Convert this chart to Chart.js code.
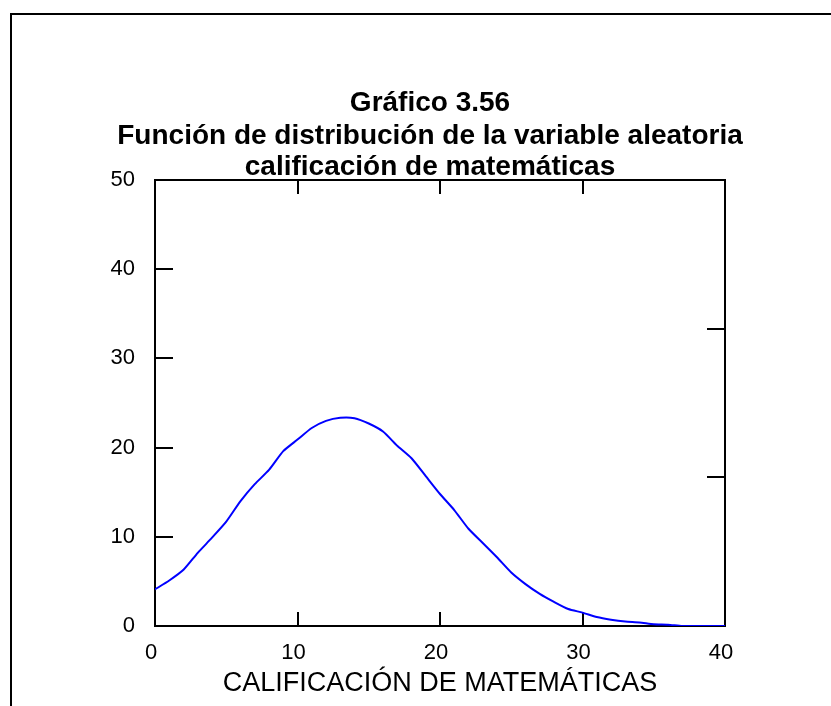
<!DOCTYPE html>
<html>
<head>
<meta charset="utf-8">
<script src="https://cdn.jsdelivr.net/npm/chart.js@4"></script>
<style>
  html, body { margin: 0; padding: 0; background: #fff; }
</style>
</head>
<body>
<canvas id="myChart" width="831" height="706"></canvas>
<script>
const titleLines = [
    'Gráfico 3.56',
    'Función de distribución de la variable aleatoria',
    'calificación de matemáticas'
];
const xAxisTitle = 'CALIFICACIÓN DE MATEMÁTICAS';
const xTicks = [0, 10, 20, 30, 40];
const yTicks = [0, 10, 20, 30, 40, 50];

const scores = [0, 1, 2, 3, 4, 5, 6, 7, 8, 9, 10,
    11, 12, 13, 14, 15, 16, 17, 18, 19, 20,
    21, 22, 23, 24, 25, 26, 27, 28, 29, 30,
    31, 32, 33, 34, 35, 36, 37, 38, 39, 40];
const density = [4.1, 5.1, 6.3, 8.2, 9.9, 11.7, 14.0, 15.9, 17.5, 19.6, 20.9,
    22.2, 23.0, 23.35, 23.3, 22.7, 21.8, 20.2, 18.8, 16.8, 14.8,
    13.0, 10.9, 9.3, 7.7, 6.0, 4.7, 3.6, 2.7, 1.9, 1.5,
    1.0, 0.7, 0.5, 0.4, 0.2, 0.15, 0, 0, 0, 0];

const points = scores.map((s, i) => ({ x: s, y: density[i] }));

// frame + title drawn on the canvas
const decorPlugin = {
    id: 'decor',
    afterDraw(chart) {
        const ctx = chart.ctx;
        ctx.save();
        ctx.strokeStyle = '#000';
        ctx.lineWidth = 2;
        ctx.beginPath();
        ctx.moveTo(11, 706);
        ctx.lineTo(11, 14);
        ctx.lineTo(831, 14);
        ctx.stroke();

        ctx.fillStyle = '#000';
        ctx.font = 'bold 28px "Liberation Sans", Arial, sans-serif';
        ctx.textAlign = 'center';
        ctx.textBaseline = 'alphabetic';
        const ys = [111, 144, 175];
        titleLines.forEach((t, i) => ctx.fillText(t, 430, ys[i]));
        ctx.restore();
    }
};

const axisFont = { family: '"Liberation Sans", Arial, sans-serif', size: 22 };

const config = {
    type: 'line',
    data: {
        datasets: [{
            data: points,
            borderColor: '#0000FF',
            borderWidth: 2,
            pointRadius: 0,
            tension: 0.2,
            fill: false
        }]
    },
    options: {
        responsive: false,
        animation: false,
        layout: { padding: { top: 179, left: 0, right: 0, bottom: 0 } },
        plugins: { legend: { display: false }, tooltip: { enabled: false } },
        scales: {
            x: {
                type: 'linear',
                position: 'bottom',
                min: 0, max: 40,
                afterBuildTicks: s => { s.ticks = xTicks.map(v => ({ value: v })); },
                afterFit: s => { s.height = 80; },
                border: { color: '#000', width: 2 },
                grid: { drawOnChartArea: false, tickLength: -14, color: '#000', lineWidth: 2 },
                ticks: { color: '#000', font: axisFont, padding: 28, labelOffset: -4, maxRotation: 0 },
                title: {
                    display: true, text: xAxisTitle, color: '#000',
                    font: { family: '"Liberation Sans", Arial, sans-serif', size: 27 },
                    padding: { top: 0, bottom: 6 }
                }
            },
            x2: {
                type: 'linear',
                position: 'top',
                min: 0, max: 40,
                afterBuildTicks: s => { s.ticks = xTicks.map(v => ({ value: v })); },
                afterFit: s => { s.height = 1; },
                border: { color: '#000', width: 2 },
                grid: { drawOnChartArea: false, tickLength: -14, color: '#000', lineWidth: 2 },
                ticks: { display: false }
            },
            y: {
                type: 'linear',
                position: 'left',
                min: 0, max: 50,
                afterBuildTicks: s => { s.ticks = yTicks.map(v => ({ value: v })); },
                afterFit: s => { s.width = 155; },
                border: { color: '#000', width: 2 },
                grid: { drawOnChartArea: false, tickLength: -18, color: '#000', lineWidth: 2 },
                ticks: { color: '#000', font: axisFont, padding: 38 }
            },
            y2: {
                type: 'linear',
                position: 'right',
                min: 0, max: 3,
                afterBuildTicks: s => { s.ticks = [0, 1, 2, 3].map(v => ({ value: v })); },
                afterFit: s => { s.width = 106; },
                border: { color: '#000', width: 2 },
                grid: { drawOnChartArea: false, tickLength: -18, color: '#000', lineWidth: 2 },
                ticks: { display: false }
            }
        }
    },
    plugins: [decorPlugin]
};

const myChart = new Chart(document.getElementById('myChart'), config);
</script>
</body>
</html>
